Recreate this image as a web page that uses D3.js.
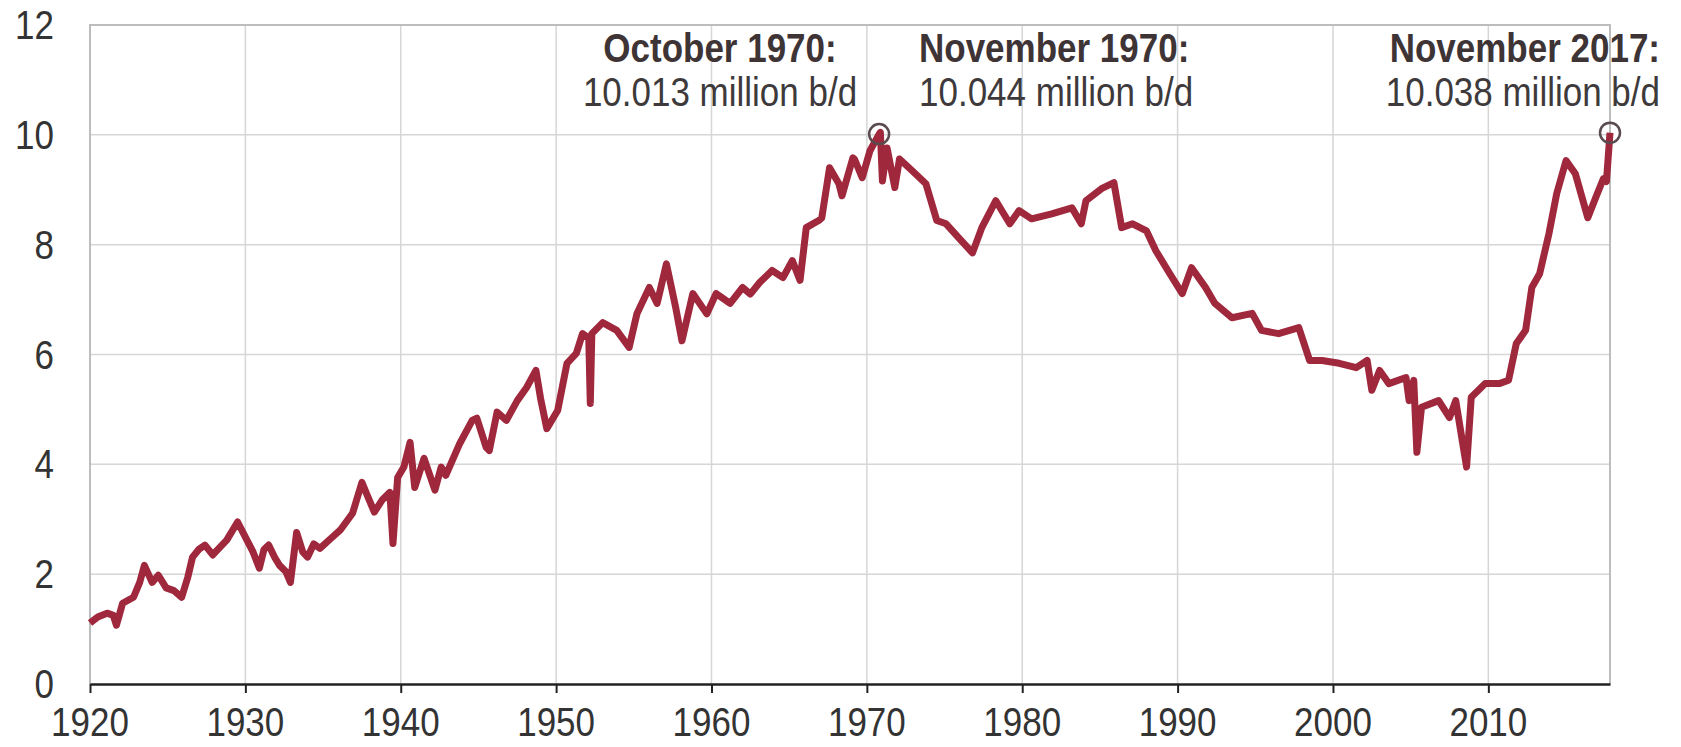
<!DOCTYPE html>
<html>
<head>
<meta charset="utf-8">
<script src="https://cdn.jsdelivr.net/npm/d3@7"></script>
<style>
  body { margin: 0; background: #fff; }
  text { font-family: "Liberation Sans", Arial, sans-serif; }
</style>
</head>
<body>
<div class="chart"></div>
<script>
// US field production of crude oil, million b/d
const years = [
  1920.0, 1920.5, 1921.1, 1921.5, 1921.7, 1922.1, 1922.8, 1923.2, 1923.5, 1924.0,
  1924.4, 1924.9, 1925.4, 1925.9, 1926.3, 1926.6, 1927.0, 1927.4, 1927.9, 1928.4,
  1928.8, 1929.5, 1930.1, 1930.5, 1930.9, 1931.2, 1931.5, 1931.9, 1932.2, 1932.6,
  1932.9, 1933.3, 1933.7, 1934.0, 1934.4, 1934.8, 1935.5, 1936.1, 1936.9, 1937.5,
  1937.9, 1938.3, 1938.8, 1939.3, 1939.5, 1939.8, 1940.2, 1940.6, 1940.9, 1941.5,
  1942.2, 1942.6, 1942.9, 1943.8, 1944.6, 1944.9, 1945.5, 1945.7, 1946.2, 1946.8,
  1947.5, 1948.1, 1948.7, 1949.0, 1949.4, 1950.1, 1950.7, 1951.3, 1951.7, 1952.1,
  1952.2, 1952.3, 1953.0, 1953.9, 1954.7, 1955.2, 1956.0, 1956.5, 1957.1, 1957.7,
  1958.1, 1958.8, 1959.7, 1960.3, 1961.2, 1962.0, 1962.5, 1963.1, 1963.9, 1964.6,
  1965.2, 1965.7, 1966.1, 1966.9, 1967.1, 1967.6, 1968.2, 1968.4, 1969.1, 1969.2,
  1969.7, 1970.2, 1970.79, 1970.87, 1971.0, 1971.3, 1971.8, 1972.1, 1972.9, 1973.8,
  1974.5, 1975.1, 1975.9, 1976.8, 1977.4, 1978.3, 1979.2, 1979.8, 1980.6, 1981.9,
  1983.2, 1983.8, 1984.1, 1985.1, 1985.9, 1986.4, 1987.1, 1988.0, 1988.6, 1989.5,
  1990.3, 1990.9, 1991.8, 1992.4, 1993.5, 1994.8, 1995.4, 1996.5, 1997.8, 1998.5,
  1999.3, 2000.4, 2001.5, 2002.2, 2002.5, 2003.0, 2003.6, 2004.7, 2004.9, 2005.2,
  2005.4, 2005.7, 2006.8, 2007.5, 2007.9, 2008.6, 2008.9, 2009.8, 2010.7, 2011.3,
  2011.8, 2012.4, 2012.8, 2013.3, 2013.9, 2014.4, 2015.0, 2015.6, 2016.4, 2016.9,
  2017.4, 2017.6, 2017.83
];
const production = [
  1.11, 1.22, 1.29, 1.25, 1.07, 1.47, 1.58, 1.85, 2.16, 1.85,
  1.98, 1.75, 1.70, 1.58, 1.95, 2.31, 2.45, 2.53, 2.35, 2.50,
  2.62, 2.95, 2.62, 2.40, 2.11, 2.45, 2.53, 2.30, 2.16, 2.05,
  1.85, 2.76, 2.40, 2.31, 2.55, 2.47, 2.65, 2.80, 3.11, 3.67,
  3.40, 3.13, 3.35, 3.49, 2.56, 3.76, 3.95, 4.40, 3.58, 4.11,
  3.53, 3.95, 3.80, 4.38, 4.80, 4.84, 4.31, 4.25, 4.95, 4.80,
  5.16, 5.40, 5.71, 5.20, 4.65, 4.98, 5.84, 6.02, 6.38, 6.30,
  5.11, 6.38, 6.58, 6.44, 6.13, 6.74, 7.22, 6.93, 7.65, 6.85,
  6.25, 7.11, 6.74, 7.11, 6.93, 7.22, 7.10, 7.31, 7.53, 7.40,
  7.71, 7.35, 8.31, 8.44, 8.49, 9.40, 9.11, 8.89, 9.58, 9.56,
  9.22, 9.71, 10.013, 10.044, 9.16, 9.76, 9.04, 9.56, 9.35, 9.11,
  8.44, 8.38, 8.13, 7.85, 8.31, 8.80, 8.38, 8.62, 8.47, 8.56,
  8.67, 8.38, 8.80, 9.02, 9.13, 8.31, 8.38, 8.25, 7.89, 7.47,
  7.11, 7.58, 7.22, 6.93, 6.67, 6.75, 6.44, 6.38, 6.49, 5.89,
  5.89, 5.84, 5.76, 5.89, 5.35, 5.71, 5.47, 5.58, 5.16, 5.53,
  4.22, 5.04, 5.16, 4.85, 5.16, 3.95, 5.22, 5.47, 5.47, 5.53,
  6.20, 6.44, 7.22, 7.47, 8.20, 8.93, 9.53, 9.29, 8.49, 8.85,
  9.20, 9.15, 10.038
];
const xTicks = [1920, 1930, 1940, 1950, 1960, 1970, 1980, 1990, 2000, 2010];
const yTicks = [0, 2, 4, 6, 8, 10, 12];
const peakYears = [1970.79, 2017.83];
const peakValues = [10.013, 10.038];
const noteTitles = ["October 1970:", "November 1970:", "November 2017:"];
const noteValues = ["10.013 million b/d", "10.044 million b/d", "10.038 million b/d"];

const margin = ({top: 25, right: 71, bottom: 63, left: 90}),
width = 1681 - margin.left - margin.right,
height = 747 - margin.top - margin.bottom;

const svg = d3.select(".chart").append("svg")
        .attr("width", width + margin.left + margin.right)
        .attr("height", height + margin.top + margin.bottom)
        .append("g")
        .attr("transform", "translate(" + margin.left + "," + margin.top + ")");

const xScale = d3.scaleLinear().domain([1920, 2017.83]).range([0, width]);
const yScale = d3.scaleLinear().domain([0, 12]).range([height, 0]);

// grid
svg.selectAll(".vgrid").data(xTicks.slice(1)).enter().append("line")
    .attr("x1", d => xScale(d)).attr("x2", d => xScale(d))
    .attr("y1", 0).attr("y2", height)
    .attr("stroke", "#d6d6d6").attr("stroke-width", 1.5);
svg.selectAll(".hgrid").data(yTicks.slice(1, -1)).enter().append("line")
    .attr("x1", 0).attr("x2", width)
    .attr("y1", d => yScale(d)).attr("y2", d => yScale(d))
    .attr("stroke", "#d6d6d6").attr("stroke-width", 1.5);

// frame (left, top, right)
svg.append("path")
    .attr("d", "M0," + height + "V0H" + width + "V" + height)
    .attr("fill", "none").attr("stroke", "#bdbdbd").attr("stroke-width", 2);

// bottom axis
const xaxis = svg.append("g")
    .attr("transform", "translate(0," + height + ")")
    .call(d3.axisBottom(xScale).tickValues(xTicks).tickSize(9).tickSizeOuter(0).tickFormat(""));
xaxis.select(".domain").attr("stroke", "#222").attr("stroke-width", 2.5);
xaxis.selectAll(".tick line").attr("stroke", "#222").attr("stroke-width", 2);

// tick labels (source image is a bit stretched vertically)
svg.selectAll(".xlab").data(xTicks).enter().append("text")
    .attr("class", "xlab")
    .attr("transform", d => "translate(" + xScale(d) + "," + (height + 52) + ") scale(1,1.15)")
    .attr("text-anchor", "middle")
    .attr("font-size", "35px").attr("fill", "#333")
    .text(d => d);

svg.selectAll(".ylab").data(yTicks).enter().append("text")
    .attr("class", "ylab")
    .attr("transform", d => "translate(-36," + (yScale(d) + 14) + ") scale(1,1.15)")
    .attr("text-anchor", "end")
    .attr("font-size", "35px").attr("fill", "#333")
    .text(d => d);

// the series
const line = d3.line()
    .x((d, i) => xScale(years[i]))
    .y(d => yScale(d));

svg.append("path")
    .datum(production)
    .attr("fill", "none")
    .attr("stroke", "#a0283d")
    .attr("stroke-width", 7)
    .attr("stroke-linejoin", "round")
    .attr("d", line);

// peak markers
svg.selectAll(".peak").data(peakValues).enter().append("circle")
    .attr("cx", (d, i) => xScale(peakYears[i]))
    .attr("cy", d => yScale(d))
    .attr("r", 10)
    .attr("fill", "none")
    .attr("stroke", "#5a4b4e")
    .attr("stroke-width", 2.5);

// annotations
const notes = [
  {x: 630, anchor: "middle"},
  {x: 829, anchor: "start"},
  {x: 1570, anchor: "end"}
];
notes.forEach((n, i) => {
  svg.append("text")
    .attr("transform", "translate(" + n.x + ",37) scale(1,1.15)")
    .attr("text-anchor", n.anchor)
    .attr("font-size", "35px").attr("font-weight", "bold").attr("fill", "#3e3436")
    .text(noteTitles[i]);
  svg.append("text")
    .attr("transform", "translate(" + n.x + ",81) scale(1,1.15)")
    .attr("text-anchor", n.anchor)
    .attr("font-size", "35px").attr("fill", "#3e3a3b")
    .text(noteValues[i]);
});
</script>
</body>
</html>
